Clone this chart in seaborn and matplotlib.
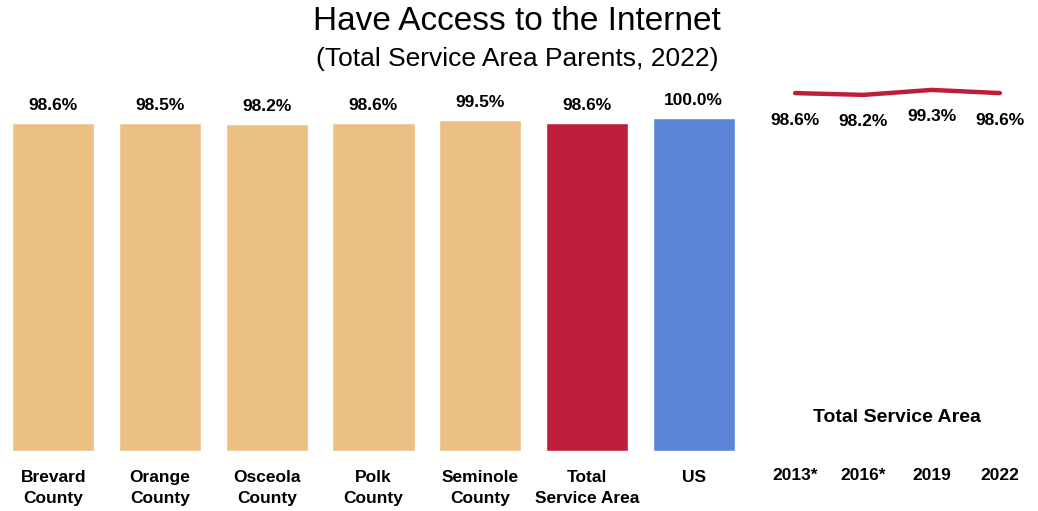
import matplotlib
matplotlib.use("Agg")
import matplotlib.pyplot as plt
import seaborn as sns
import pandas as pd
from matplotlib import font_manager

sns.set_theme(style="white")

names = [f.name for f in font_manager.fontManager.ttflist]
narrow = "Liberation Sans Narrow" if "Liberation Sans Narrow" in names else "Liberation Sans"
plt.rcParams['font.family'] = [narrow, 'DejaVu Sans']

categories = ["Brevard\nCounty", "Orange\nCounty", "Osceola\nCounty", "Polk\nCounty",
              "Seminole\nCounty", "Total\nService Area", "US"]
values = [98.6, 98.5, 98.2, 98.6, 99.5, 98.6, 100.0]
bar_colors = ["#ECC084", "#ECC084", "#ECC084", "#ECC084", "#ECC084", "#BE1E3A", "#5B85D6"]

years = ["2013*", "2016*", "2019", "2022"]
trend = [98.6, 98.2, 99.3, 98.6]

W, H = 1038, 511
fig = plt.figure(figsize=(W / 100, H / 100), dpi=100)

def px(left, top, right, bottom):
    return [left / W, 1 - bottom / H, (right - left) / W, (bottom - top) / H]

# Bar chart
ax = fig.add_axes(px(0, 118, 747, 451))
df = pd.DataFrame({"cat": categories, "val": values})
sns.barplot(data=df, x="cat", y="val", hue="cat", palette=bar_colors,
            legend=False, ax=ax, width=0.77, saturation=1)
ax.set_ylim(0, 100)
ax.set_xlim(-0.5, 6.5)
ax.set_xlabel("")
ax.set_ylabel("")
ax.set_yticks([])
for s in ax.spines.values():
    s.set_visible(False)
ax.tick_params(axis="x", length=0, pad=14)
for lab in ax.get_xticklabels():
    lab.set_fontsize(12.5)
    lab.set_fontweight("bold")
    lab.set_color("black")
    lab.set_linespacing(1.45)
    lab.set_verticalalignment("top")
for i, v in enumerate(values):
    ax.annotate(f"{v:.1f}%", (i, v), xytext=(0, 7), textcoords="offset points",
                ha="center", va="bottom", fontsize=12.5, fontweight="bold", color="black",
                annotation_clip=False)

# Line chart
L2, R2 = 761, 1034
ax2 = fig.add_axes(px(L2, 80, R2, 140))
ldf = pd.DataFrame({"year": years, "val": trend})
sns.lineplot(data=ldf, x="year", y="val", ax=ax2, color="#BE1E3A", linewidth=3.2, sort=False)
ax2.set_xlim(-0.5, 3.5)
ax2.set_ylim(88.2, 101.5)
ax2.axis("off")
for i, v in enumerate(trend):
    ax2.annotate(f"{v:.1f}%", (i, v), xytext=(0, -14), textcoords="offset points",
                 ha="center", va="top", fontsize=12.5, fontweight="bold", color="black",
                 annotation_clip=False)

# Year labels and subtitle for line panel
for i, y in enumerate(years):
    xpix = L2 + (i + 0.5) / 4.0 * (R2 - L2)
    fig.text(xpix / W, 1 - 475 / H, y, ha="center", va="center",
             fontsize=12.5, fontweight="bold", color="black")
fig.text(897 / W, 1 - 417 / H, "Total Service Area", ha="center", va="center",
         fontsize=14, fontweight="bold", color="black")

# Titles
fig.text(517 / W, 1 - 22 / H, "Have Access to the Internet", ha="center", va="center",
         fontsize=24, family="Liberation Sans", color="black")
fig.text(517 / W, 1 - 59 / H, "(Total Service Area Parents, 2022)", ha="center", va="center",
         fontsize=19, family="Liberation Sans", color="black")

fig.savefig("out.png", dpi=100, facecolor="white")
